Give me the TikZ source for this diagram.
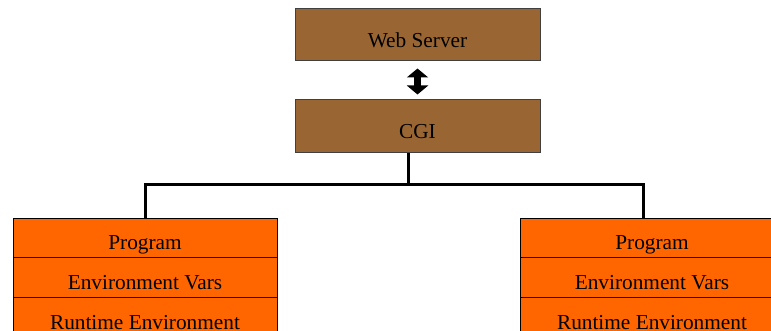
\documentclass[tikz,border=0pt]{standalone}
\usepackage{fontspec}
\setmainfont{Liberation Serif}
\usetikzlibrary{arrows.meta}
\definecolor{webbrown}{HTML}{996633}
\definecolor{progorange}{HTML}{FF6600}
\definecolor{boxedge}{HTML}{404040}
\begin{document}
\begin{tikzpicture}[x=1pt,y=1pt,
  every node/.style={font=\fontsize{21.3}{25}\selectfont, inner sep=0pt, text height=25pt, text depth=0pt},
  brownbox/.style={draw=boxedge, line width=1pt, fill=webbrown, minimum width=245pt, minimum height=52pt},
  rowbox/.style={draw=black, line width=0.9pt, fill=progorange, minimum width=264pt, minimum height=40pt},
  conn/.style={draw=black, line width=3pt},
  dblarrow/.style={line width=7pt, {Triangle[width=21pt,length=9pt]}-{Triangle[width=21pt,length=9pt]}}]
\useasboundingbox (0,0) rectangle (771,-331);
\clip (0,0) rectangle (771,-331);
\node[brownbox] (web) at (417.5,-35) {Web Server};
\node[brownbox, minimum height=53pt] (cgi) at (417.5,-126.5) {CGI};
\draw[dblarrow, shorten <=7pt, shorten >=5pt] (web.south) -- (cgi.north);
% left program stack
\node[rowbox, minimum height=39pt] (prog1) at (145,-237.5) {Program};
\node[rowbox] (env1) at (145,-277) {Environment Vars};
\node[rowbox] (rt1) at (145,-317) {Runtime Environment};
% right program stack
\node[rowbox, minimum height=39pt] (prog2) at (652,-237.5) {Program};
\node[rowbox] (env2) at (652,-277) {Environment Vars};
\node[rowbox] (rt2) at (652,-317) {Runtime Environment};
% connectors
\coordinate (bus) at (408,-185);
\coordinate (rtop) at (643,-218);
\coordinate (ltop) at (145,-218);
\draw[conn] (408,-153) coordinate (cgibot) -- (bus);
\draw[conn] (ltop) |- (bus) -| (rtop);
\end{tikzpicture}
\end{document}
